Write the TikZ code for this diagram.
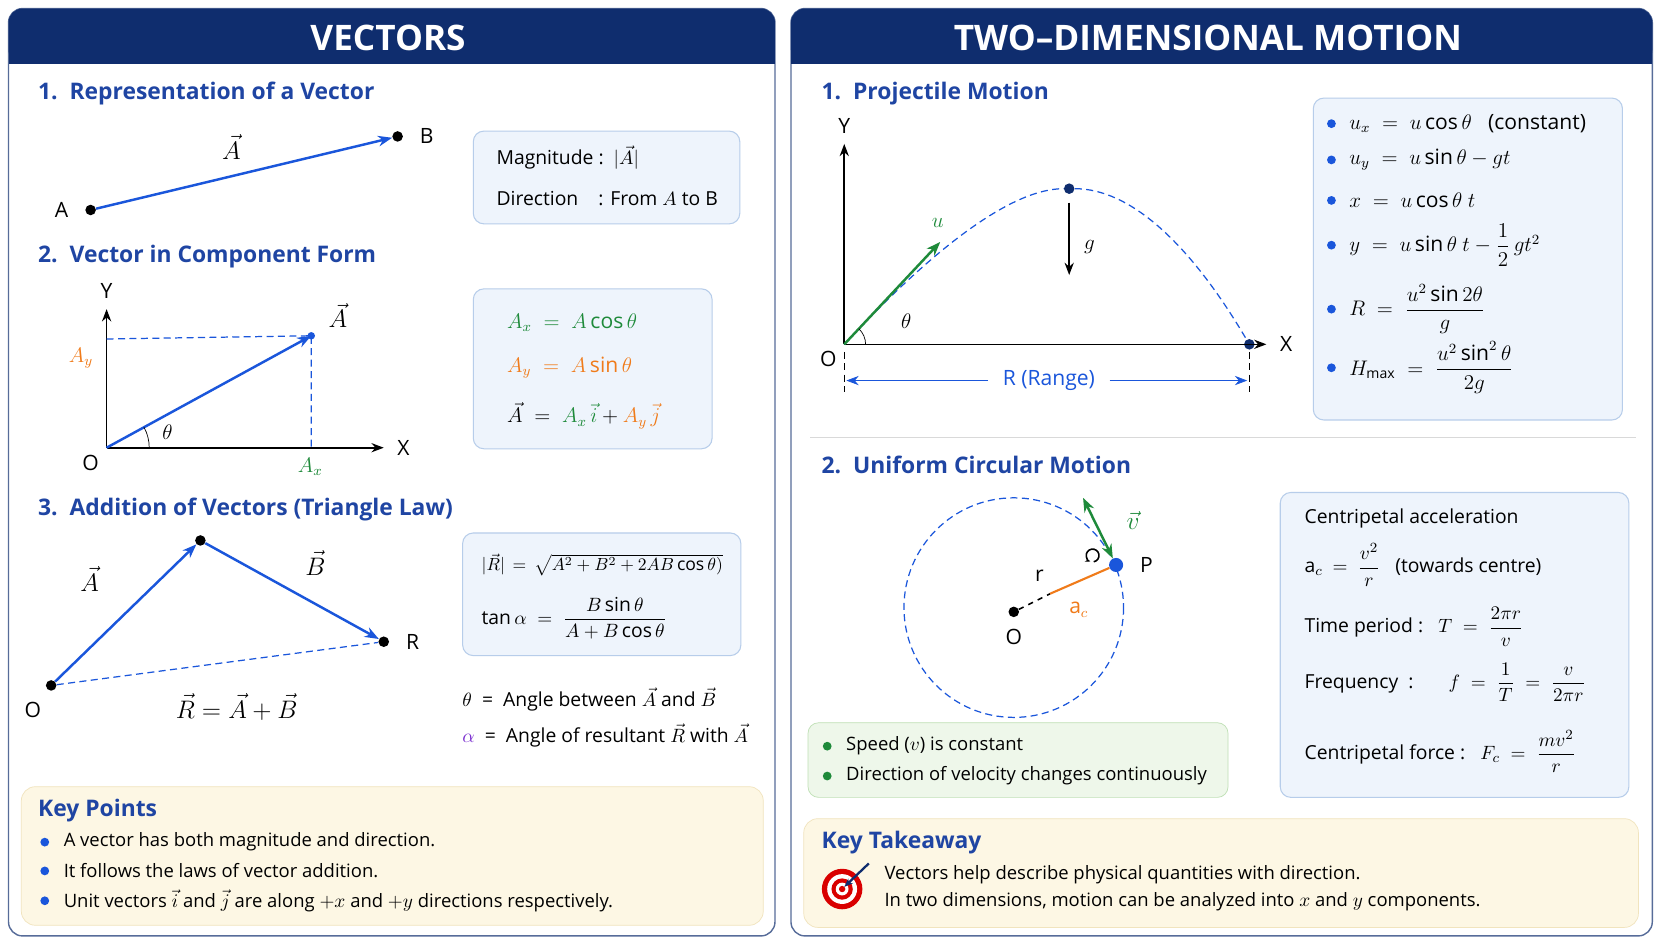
\documentclass[tikz,border=0pt]{standalone}
\usepackage{amsmath}
\usepackage{xcolor}
\usepackage{fontspec}
\setmainfont{Open Sans}
\usetikzlibrary{calc,arrows.meta,positioning}
\definecolor{navy}{HTML}{0F2D6E}
\definecolor{sectblue}{HTML}{1F45A3}
\definecolor{vecblue}{HTML}{1A56DB}
\definecolor{boxfill}{HTML}{EEF4FC}
\definecolor{boxline}{HTML}{B7CDEA}
\definecolor{vgreen}{HTML}{1E8A3A}
\definecolor{vorange}{HTML}{F07B1A}
\definecolor{vpurple}{HTML}{7B2FD0}
\definecolor{keyfill}{HTML}{FDF7E4}
\definecolor{keyline}{HTML}{F1E4BE}
\definecolor{grfill}{HTML}{EEF7EA}
\definecolor{grline}{HTML}{BFE0B5}
\newcommand{\vA}{\vec{A}}
\newcommand{\vB}{\vec{B}}
\newcommand{\vR}{\vec{R}}
\tikzset{
    panel/.style={draw=navy!70, line width=0.8pt, rounded corners=8pt, fill=white},
    infobox/.style={draw=boxline, fill=boxfill, rounded corners=6pt, line width=0.6pt},
    sect/.style={anchor=west, text=sectblue, font=\fontsize{13}{16}\selectfont\bfseries},
    body/.style={anchor=west, font=\fontsize{11}{14}\selectfont},
    lbl/.style={font=\fontsize{12}{14}\selectfont},
    dot/.style={circle, fill, inner sep=0pt, minimum size=6pt},
    vec/.style={-{Stealth[length=8pt]}, line width=1.4pt, vecblue},
    axis/.style={-{Stealth[length=7pt]}, line width=0.9pt},
    dashln/.style={line width=0.7pt, dash pattern=on 4pt off 2.5pt},
    bullet/.style={circle, fill=vecblue, inner sep=0pt, minimum size=5pt}
}
\begin{document}
\begin{tikzpicture}[x=0.02132cm, y=-0.02132cm]
    \useasboundingbox (0,0) rectangle (1568.5,882.7);
    % ---------- left panel ----------
    \draw[panel] (8,8) rectangle (727,878);
    \fill[navy, rounded corners=8pt] (8,8) rectangle (727,60);
    \fill[navy] (8,40) rectangle (727,60);
    \node[text=white, font=\fontsize{20}{24}\selectfont\bfseries] at (364,36) {VECTORS};

    \node[sect] at (30,88) {1.\ \ Representation of a Vector};
    \node[dot] (pA) at (85,197) {};
    \node[dot] (pB) at (373,128) {};
    \draw[vec] (pA) -- (pB);
    \node[lbl, left=6pt of pA] {A};
    \node[lbl, right=6pt of pB] {B};
    \node[lbl, font=\Large] at (217,138) {$\vA$};
    \draw[infobox] (444,123) rectangle (694,210);
    \node[body] at (460,148) {Magnitude\ :\ \ $|\vA|$};
    \node[body] at (460,186) {Direction\ \ \ \ : From $A$ to B};

    \node[sect] at (30,241) {2.\ \ Vector in Component Form};
    \coordinate (o1) at (100,420);
    \coordinate (tip1) at (292,315);
    \draw[axis] (o1) -- (100,290) node[lbl, above=2pt] {Y};
    \draw[axis] (o1) -- (360,420) node[lbl, right=4pt] {X};
    \node[lbl] at (85,434) {O};
    \draw[dashln, vecblue] (100,318) -- (tip1) -- (292,420);
    \draw[vec] (o1) -- (tip1);
    \fill[vecblue] (tip1) circle (3.5);
    \node[lbl, font=\Large] at (317,296) {$\vA$};
    \node[lbl, text=vorange, font=\large] at (76,336) {$A_y$};
    \node[lbl, text=vgreen, font=\large] at (291,438) {$A_x$};
    \draw (140,420) arc[start angle=0, end angle=-29, radius=40];
    \node[lbl] at (157,405) {$\theta$};
    \draw[infobox] (444,271) rectangle (668,421);
    \node[body, text=vgreen, font=\large] at (470,303) {$A_x \;=\; A\cos\theta$};
    \node[body, text=vorange, font=\large] at (470,345) {$A_y \;=\; A\sin\theta$};
    \node[body, font=\large] at (470,390) {$\vA \;=\; \textcolor{vgreen}{A_x\,\vec{i}} + \textcolor{vorange}{A_y\,\vec{j}}$};

    \node[sect] at (30,478) {3.\ \ Addition of Vectors (Triangle Law)};
    \node[dot] (tO) at (48,643) {};
    \node[dot] (tM) at (188,507) {};
    \node[dot] (tR) at (360,602) {};
    \draw[vec] (tO) -- (tM);
    \draw[vec] (tM) -- (tR);
    \draw[dashln, vecblue] (tO) -- (tR);
    \node[lbl, font=\Large] at (84,543) {$\vA$};
    \node[lbl, font=\Large] at (296,528) {$\vB$};
    \node[lbl, right=6pt of tR] {R};
    \node[lbl, below left=4pt and 0pt of tO] {O};
    \node[lbl, font=\Large] at (222,663) {$\vR = \vA + \vB$};
    \draw[infobox] (434,500) rectangle (695,615);
    \node[body, font=\fontsize{10}{12}\selectfont] at (446,530) {$|\vR| \,=\, \sqrt{A^2+B^2+2AB\cos\theta)}$};
    \node[body] at (446,580) {$\tan\alpha \;=\; \dfrac{B\sin\theta}{A+B\cos\theta}$};
    \node[body] at (428,656) {$\theta$\ \ =\ \ Angle between $\vA$ and $\vB$};
    \node[body] at (428,690) {$\textcolor{vpurple}{\alpha}$\ \ =\ \ Angle of resultant $\vR$ with $\vA$};

    \draw[fill=keyfill, draw=keyline, rounded corners=8pt] (20,738) rectangle (716,868);
    \node[sect] at (30,760) {Key Points};
    \foreach \yy/\txt in {790/A vector has both magnitude and direction.,
                          817/It follows the laws of vector addition.,
                          845/{Unit vectors $\vec{i}$ and $\vec{j}$ are along $+x$ and $+y$ directions respectively.}} {
        \node[bullet] at (42,\yy) {};
        \node[body, font=\fontsize{10.5}{13}\selectfont] at (54,\yy) {\txt};
    }

    % ---------- right panel ----------
    \draw[panel] (742,8) rectangle (1550,878);
    \fill[navy, rounded corners=8pt] (742,8) rectangle (1550,60);
    \fill[navy] (742,40) rectangle (1550,60);
    \node[text=white, font=\fontsize{20}{24}\selectfont\bfseries] at (1133,36) {TWO--DIMENSIONAL MOTION};

    \node[sect] at (765,88) {1.\ \ Projectile Motion};
    \coordinate (o2) at (792,323);
    \draw[axis] (o2) -- (792,135) node[lbl, above=2pt] {Y};
    \node[dot, fill=navy] (land) at (1172,323) {};
    \draw[axis] (o2) -- (1188,323) node[lbl, right=4pt] {X};
    \node[lbl] at (777,337) {O};
    \node[dot, fill=navy] (apex) at (1003,177) {};
    \draw[dashln, vecblue] (o2) .. controls (882,226) and (952,177) .. (apex)
        .. controls (1059,177) and (1115,226) .. (land);
    \draw[-{Stealth[length=8pt]}, line width=1.4pt, vgreen] (o2) -- (882,227) node[lbl, text=vgreen, above left=4pt and -6pt] {$u$};
    \draw (812,323) arc[start angle=0, end angle=-47, radius=20];
    \node[lbl] at (850,301) {$\theta$};
    \draw[-{Stealth[length=7pt]}, line width=0.9pt] (1003,190) -- (1003,258);
    \node[lbl, font=\large] at (1022,232) {$g$};
    \draw[dashln, thin] (792,330) -- (792,368);
    \draw[dashln, thin] (1172,330) -- (1172,368);
    \node[lbl, text=vecblue] (rng) at (984,357) {R (Range)};
    \draw[-{Stealth[length=7pt]}, vecblue] (rng.west) ++(-8,0) -- (794,357);
    \draw[-{Stealth[length=7pt]}, vecblue] (rng.east) ++(8,0) -- (1170,357);

    \draw[infobox] (1232,92) rectangle (1522,394);
    \foreach \yy/\txt in {116/{$u_x \;=\; u\cos\theta$\ \ \ (constant)},
                          150/{$u_y \;=\; u\sin\theta - gt$},
                          188/{$x \;=\; u\cos\theta\ t$},
                          230/{$y \;=\; u\sin\theta\ t - \dfrac{1}{2}\,gt^2$},
                          290/{$R \;=\; \dfrac{u^2\sin 2\theta}{g}$},
                          345/{$H_{\max} \;=\; \dfrac{u^2\sin^2\theta}{2g}$}} {
        \node[bullet] at (1249,\yy) {};
        \node[body, font=\large] at (1260,\yy) {\txt};
    }

    \draw[black!15] (760,410) -- (1535,410);

    \node[sect] at (765,436) {2.\ \ Uniform Circular Motion};
    \draw[dashln, vecblue] (951,570) circle (103);
    \node[dot] (cO) at (951,574) {};
    \node[dot, fill=vecblue, minimum size=8pt] (cP) at (1047,530) {};
    \node[lbl, below=3pt of cO] {O};
    \node[lbl, right=6pt of cP] {P};
    \draw[dashed, line width=0.9pt] (cO) -- (985,557);
    \draw[vorange, line width=1.2pt] (985,557) -- (cP);
    \draw[line width=0.9pt, -{Stealth[length=3pt]}] (1026,527) arc[start angle=80, end angle=-250, radius=6];
    \node[lbl] at (975,540) {r};
    \node[lbl, text=vorange, font=\large] at (1012,572) {a$_c$};
    \draw[{Stealth[length=8pt]}-{Stealth[length=8pt]}, line width=1.4pt, vgreen] (cP) -- (1016,467);
    \node[lbl, text=vgreen, font=\Large] at (1063,488) {$\vec{v}$};

    \draw[fill=grfill, draw=grline, rounded corners=6pt] (758,678) rectangle (1152,748);
    \foreach \yy/\txt in {700/{Speed ($v$) is constant}, 728/Direction of velocity changes continuously} {
        \node[circle, fill=vgreen, inner sep=0pt, minimum size=5pt] at (776,\yy) {};
        \node[body, font=\fontsize{10.5}{13}\selectfont] at (788,\yy) {\txt};
    }

    \draw[infobox] (1201,462) rectangle (1528,748);
    \node[body] at (1218,486) {Centripetal acceleration};
    \node[body] at (1218,530) {a$_c$\ \ $=$\ \ $\dfrac{v^2}{r}$\ \ \ (towards centre)};
    \node[body] at (1218,588) {Time period :\ \ \ $T \;=\; \dfrac{2\pi r}{v}$};
    \node[body] at (1218,640) {Frequency\ \ :\ \ \ \ \ \ \ $f \;=\; \dfrac{1}{T} \;=\; \dfrac{v}{2\pi r}$};
    \node[body] at (1218,705) {Centripetal force :\ \ \ $F_c \;=\; \dfrac{mv^2}{r}$};

    \draw[fill=keyfill, draw=keyline, rounded corners=8pt] (754,768) rectangle (1537,870);
    \node[sect] at (765,790) {Key Takeaway};
    % target icon
    \foreach \rr/\cc in {19/red!85!black, 14/white, 10/red!85!black, 6/white, 3/red!85!black}
        \fill[\cc] (790,834) circle (\rr);
    \draw[navy, line width=1.3pt, -{Stealth[length=5pt]}] (815,810) -- (792,832);
    \node[body, font=\fontsize{10.5}{13}\selectfont] at (824,821) {Vectors help describe physical quantities with direction.};
    \node[body, font=\fontsize{10.5}{13}\selectfont] at (824,846) {In two dimensions, motion can be analyzed into $x$ and $y$ components.};
\end{tikzpicture}
\end{document}
